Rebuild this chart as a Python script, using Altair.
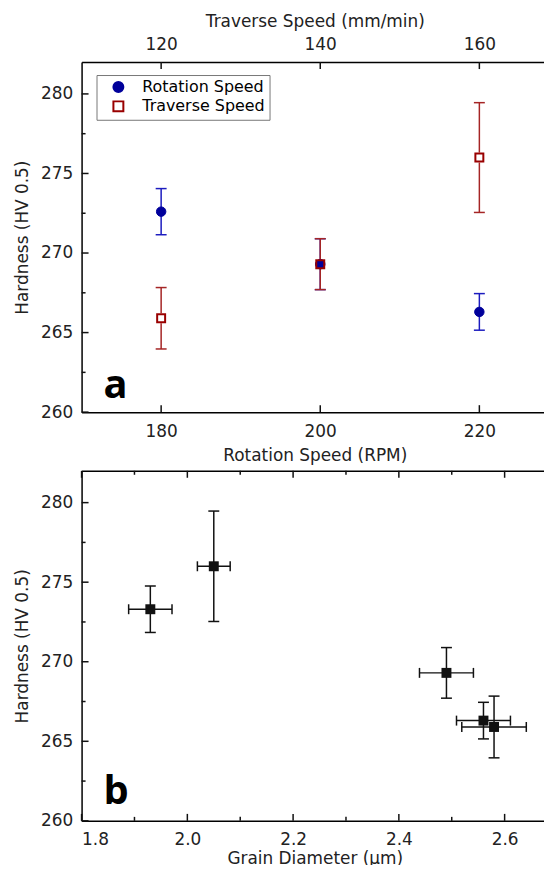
import altair as alt
import pandas as pd

# ---------------- data ----------------
rotation_speed = [180, 200, 220]
rotation_hardness = [272.6, 269.3, 266.3]
rotation_error = [1.45, 1.6, 1.15]

traverse_speed = [120, 140, 160]
traverse_hardness = [265.9, 269.3, 276.0]
traverse_error = [1.93, 1.6, 3.45]

grain_diameter = [1.93, 2.05, 2.49, 2.56, 2.58]
grain_diameter_error = [0.041, 0.031, 0.051, 0.051, 0.061]
grain_hardness = [273.3, 276.0, 269.3, 266.3, 265.9]
grain_hardness_error = [1.46, 3.47, 1.59, 1.15, 1.94]

series_names = ["Rotation Speed", "Traverse Speed"]
hardness_major_ticks = [260, 265, 270, 275, 280]
hardness_minor_ticks = [262.5, 267.5, 272.5, 277.5]
rotation_ticks = [180, 200, 220]
traverse_ticks = [120, 140, 160]
grain_major_ticks = [1.8, 2.0, 2.2, 2.4, 2.6]
grain_minor_ticks = [1.9, 2.1, 2.3, 2.5]
panel_letters = ["a", "b"]

# ---------------- tables ----------------
rot = pd.DataFrame({"speed": rotation_speed, "h": rotation_hardness})
rot["lo"] = [h - e for h, e in zip(rotation_hardness, rotation_error)]
rot["hi"] = [h + e for h, e in zip(rotation_hardness, rotation_error)]
rot["series"] = series_names[0]

trav = pd.DataFrame({"speed": traverse_speed, "h": traverse_hardness})
trav["lo"] = [h - e for h, e in zip(traverse_hardness, traverse_error)]
trav["hi"] = [h + e for h, e in zip(traverse_hardness, traverse_error)]
trav["series"] = series_names[1]

grain = pd.DataFrame({"d": grain_diameter, "h": grain_hardness})
grain["dlo"] = [d - e for d, e in zip(grain_diameter, grain_diameter_error)]
grain["dhi"] = [d + e for d, e in zip(grain_diameter, grain_diameter_error)]
grain["lo"] = [h - e for h, e in zip(grain_hardness, grain_hardness_error)]
grain["hi"] = [h + e for h, e in zip(grain_hardness, grain_hardness_error)]

# ---------------- styling ----------------
W, H = 469, 352
FONT = "DejaVu Sans"
BLUE = "#00009B"
BLUE_BAR = "#1C1CBF"
RED = "#990000"
RED_BAR = "#A52525"
BLACK = "#111111"
MAJOR, MINOR = 7, 4


def y_sc():
    return alt.Scale(domain=[260, 282], nice=False, zero=False)


def rot_sc():
    return alt.Scale(domain=[170, 170 + W / 8.0], nice=False, zero=False)


def trav_sc():
    return alt.Scale(domain=[110, 110 + W / 8.0], nice=False, zero=False)


def grain_sc():
    return alt.Scale(domain=[1.8, 1.8 + W / 531.75], nice=False, zero=False)


def y_axis():
    return alt.Axis(values=hardness_major_ticks, orient="left", title="Hardness (HV 0.5)",
                    labelPadding=9, titlePadding=9, ticks=False, tickSize=0, format="d")


def Y(field):
    return alt.Y(field, scale=y_sc(), axis=y_axis())


fill_scale = alt.Scale(domain=series_names, range=[BLUE, "transparent"])
stroke_scale = alt.Scale(domain=series_names, range=[BLUE, RED])
shape_scale = alt.Scale(domain=series_names, range=["circle", "square"])

legend = alt.Legend(
    title=None, orient="none", legendX=15, legendY=13, padding=4,
    strokeColor="#777777", fillColor="white", symbolOffset=10, labelOffset=16,
    rowPadding=1.5, symbolSize=100, symbolStrokeWidth=2,
    labelFont=FONT, labelFontSize=16, labelColor="black",
)

rot_axis = alt.Axis(values=rotation_ticks, orient="bottom", title="Rotation Speed (RPM)",
                    labelPadding=11, titlePadding=9, ticks=False, tickSize=0, format="d")
trav_axis = alt.Axis(values=traverse_ticks, orient="top", title="Traverse Speed (mm/min)",
                     labelPadding=9, titlePadding=5, ticks=False, tickSize=0, format="d")
grain_axis = alt.Axis(values=grain_major_ticks, orient="bottom", title="Grain Diameter (μm)",
                      labelPadding=11, titlePadding=3, ticks=False, tickSize=0, format=".1f")
grain_top_axis = alt.Axis(orient="top", labels=False, ticks=False, tickSize=0, title=None)


def y_ticks(values, length):
    return alt.Chart(pd.DataFrame({"v": values})).mark_tick(
        orient="horizontal", size=length, thickness=1.5, color=BLACK, opacity=1
    ).encode(y=Y("v:Q"), x=alt.value(length / 2.0))


def x_ticks(values, scale, length, top, axis=None):
    yc = length / 2.0 if top else H - length / 2.0
    return alt.Chart(pd.DataFrame({"v": values})).mark_tick(
        orient="vertical", size=length, thickness=1.5, color=BLACK, opacity=1
    ).encode(x=alt.X("v:Q", scale=scale, axis=axis), y=alt.value(yc))


def cap_h(df, xfield, yfield, scale, color, size=11):
    return alt.Chart(df).mark_tick(orient="horizontal", size=size, thickness=1.5, color=color, opacity=1).encode(
        x=alt.X(xfield, scale=scale, axis=None), y=Y(yfield))


def cap_v(df, xfield, yfield, scale, color, size=10):
    return alt.Chart(df).mark_tick(orient="vertical", size=size, thickness=1.5, color=color, opacity=1).encode(
        x=alt.X(xfield, scale=scale, axis=None), y=Y(yfield))


def legend_channels():
    return dict(
        fill=alt.Fill("series:N", scale=fill_scale, legend=legend),
        stroke=alt.Stroke("series:N", scale=stroke_scale, legend=legend),
        shape=alt.Shape("series:N", scale=shape_scale, legend=legend),
    )


# ---------------- panel a ----------------
rot_bar = alt.Chart(rot).mark_rule(color=BLUE_BAR, strokeWidth=1.5).encode(
    x=alt.X("speed:Q", scale=rot_sc(), axis=rot_axis), y=Y("lo:Q"), y2="hi:Q")
rot_pts = alt.Chart(rot).mark_point(size=90, strokeWidth=1, opacity=1).encode(
    x=alt.X("speed:Q", scale=rot_sc(), axis=None), y=Y("h:Q"), **legend_channels())

trav_up = alt.Chart(trav).mark_rule(color=RED_BAR, strokeWidth=1.5, y2Offset=-5).encode(
    x=alt.X("speed:Q", scale=trav_sc(), axis=trav_axis), y=Y("hi:Q"), y2="h:Q")
trav_dn = alt.Chart(trav).mark_rule(color=RED_BAR, strokeWidth=1.5, yOffset=5).encode(
    x=alt.X("speed:Q", scale=trav_sc(), axis=None), y=Y("h:Q"), y2="lo:Q")
trav_pts = alt.Chart(trav).mark_point(size=64, strokeWidth=2, opacity=1).encode(
    x=alt.X("speed:Q", scale=trav_sc(), axis=None), y=Y("h:Q"), **legend_channels())

letter_a = alt.Chart(pd.DataFrame({"t": panel_letters[:1]})).mark_text(
    font="Open Sans", fontWeight="bold", fontSize=40, align="left", baseline="alphabetic", color="black"
).encode(text="t:N", x=alt.value(22), y=alt.value(338))

panel_a = alt.layer(
    rot_bar,
    cap_h(rot, "speed:Q", "lo:Q", rot_sc(), BLUE_BAR),
    cap_h(rot, "speed:Q", "hi:Q", rot_sc(), BLUE_BAR),
    rot_pts,
    x_ticks(rotation_ticks, rot_sc(), MAJOR, top=False),
    y_ticks(hardness_major_ticks, MAJOR),
    y_ticks(hardness_minor_ticks, MINOR),
    trav_up, trav_dn,
    cap_h(trav, "speed:Q", "lo:Q", trav_sc(), RED_BAR),
    cap_h(trav, "speed:Q", "hi:Q", trav_sc(), RED_BAR),
    trav_pts,
    x_ticks(traverse_ticks, trav_sc(), MAJOR, top=True),
    letter_a,
).resolve_scale(x="independent").properties(width=W, height=H)

# ---------------- panel b ----------------
g_vbar = alt.Chart(grain).mark_rule(color=BLACK, strokeWidth=1.5).encode(
    x=alt.X("d:Q", scale=grain_sc(), axis=grain_axis), y=Y("lo:Q"), y2="hi:Q")
g_hbar = alt.Chart(grain).mark_rule(color=BLACK, strokeWidth=1.5).encode(
    x=alt.X("dlo:Q", scale=grain_sc(), axis=None), x2="dhi:Q", y=Y("h:Q"))
g_pts = alt.Chart(grain).mark_square(size=100, color=BLACK, opacity=1).encode(
    x=alt.X("d:Q", scale=grain_sc(), axis=None), y=Y("h:Q"))
letter_b = alt.Chart(pd.DataFrame({"t": panel_letters[1:]})).mark_text(
    font="Open Sans", fontWeight="bold", fontSize=40, align="left", baseline="alphabetic", color="black"
).encode(text="t:N", x=alt.value(22), y=alt.value(335.5))

panel_b = alt.layer(
    g_vbar, g_hbar,
    cap_h(grain, "d:Q", "lo:Q", grain_sc(), BLACK),
    cap_h(grain, "d:Q", "hi:Q", grain_sc(), BLACK),
    cap_v(grain, "dlo:Q", "h:Q", grain_sc(), BLACK),
    cap_v(grain, "dhi:Q", "h:Q", grain_sc(), BLACK),
    g_pts,
    x_ticks(grain_major_ticks, grain_sc(), MAJOR, top=False),
    x_ticks(grain_minor_ticks, grain_sc(), MINOR, top=False),
    x_ticks(grain_minor_ticks, grain_sc(), MINOR, top=True),
    y_ticks(hardness_major_ticks, MAJOR),
    y_ticks(hardness_minor_ticks, MINOR),
    letter_b,
    x_ticks(grain_major_ticks, grain_sc(), MAJOR, top=True, axis=grain_top_axis),
).resolve_axis(x="independent").properties(width=W, height=H)

chart = alt.vconcat(panel_a, panel_b, spacing=7).resolve_scale(
    fill="independent", stroke="independent", shape="independent"
).properties(
    padding={"left": 5, "top": 2, "right": -4, "bottom": -4}
).configure(font=FONT).configure_axis(
    labelFont=FONT, labelFontSize=17, labelColor="#222222",
    titleFont=FONT, titleFontSize=17, titleFontWeight="normal", titleColor="#222222",
    grid=False, domainColor="black", domainWidth=1.5,
).configure_view(strokeWidth=0)

chart.save("out.html", embed_options={"renderer": "svg", "actions": False})
